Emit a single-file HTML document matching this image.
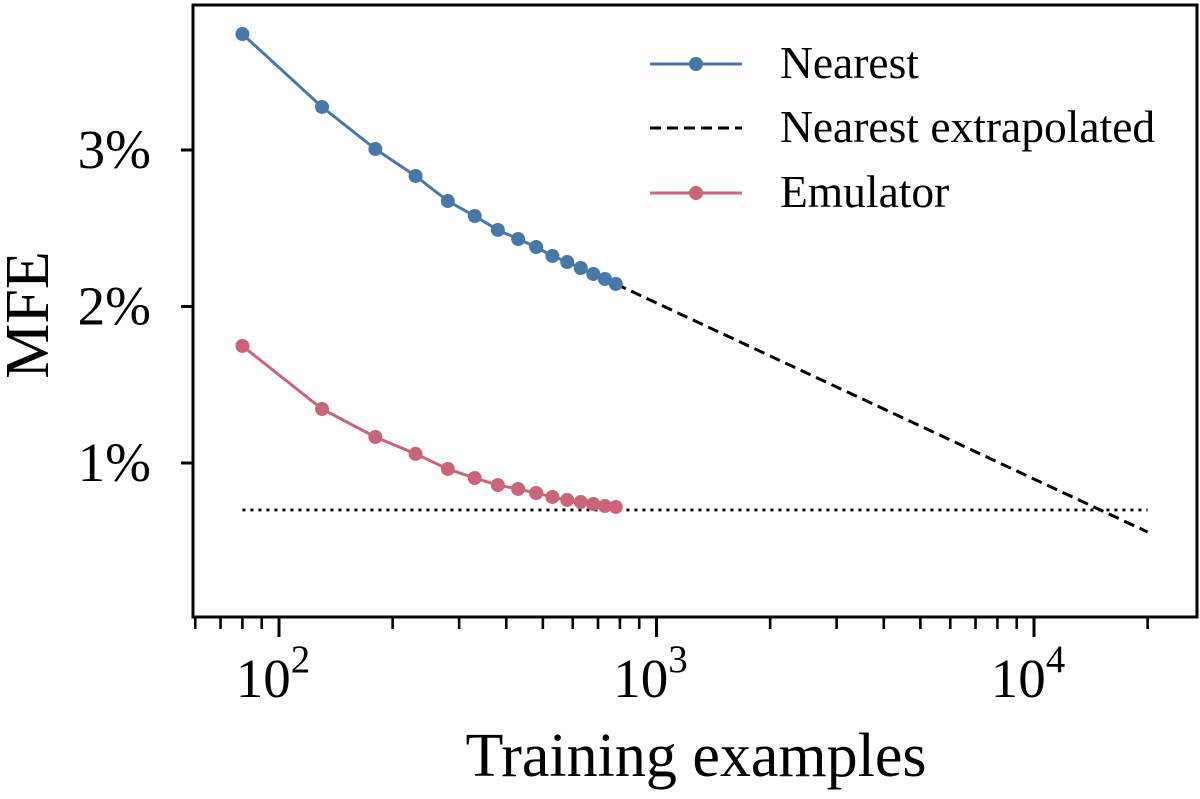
<!DOCTYPE html>
<html><head><meta charset="utf-8"><style>
body{margin:0;background:#fff}
svg text{font-family:"Liberation Serif",serif;fill:#000}
</style></head><body>
<svg id="chart" width="1200" height="794" xmlns="http://www.w3.org/2000/svg"></svg>
<script>
const xValues=[80,130,180,230,280,330,380,430,480,530,580,630,680,730,780];
const nearestValues=[3.741,3.275,3.006,2.834,2.674,2.578,2.489,2.431,2.380,2.323,2.284,2.246,2.208,2.176,2.144];
const emulatorValues=[1.748,1.345,1.166,1.058,0.962,0.904,0.859,0.834,0.808,0.783,0.764,0.751,0.738,0.725,0.719];
const extrapX=[780,20000];
const extrapValues=[2.144,0.559];
const floorX=[80,20000];
const floorValues=[0.70,0.70];
const yTicks=[1,2,3];
const xTickExps=[2,3,4];

const L=193,R=1197,T=5,B=617;
const NS="http://www.w3.org/2000/svg";
const svg=document.getElementById('chart');
function xs(v){return 279+(Math.log10(v)-2)*377.5;}
function ys(v){return 463-(v-1)*156.5;}
function mk(t,a,parent){const e=document.createElementNS(NS,t);for(const k in a)e.setAttribute(k,a[k]);(parent||svg).appendChild(e);return e;}

yTicks.forEach(v=>{
  const t=mk('line',{x1:L-12,x2:L,y1:ys(v),y2:ys(v),stroke:'#000','stroke-width':3});
  
  
  const l=mk('text',{x:L-42,y:ys(v)+18,'text-anchor':'end','font-size':55});
  l.textContent=v+'%';
  
  
});
for(let e=1;e<=4;e++){for(let m=1;m<10;m++){const v=m*Math.pow(10,e);const x=xs(v);if(x<L||x>R)continue;
  const major=m===1;
  const t=mk('line',{x1:x,x2:x,y1:B,y2:B+(major?20:12),stroke:'#000','stroke-width':major?3:2.6});
  
  
}}
xTickExps.forEach(e=>{
  const l=mk('text',{x:xs(Math.pow(10,e))-6,y:697,'text-anchor':'middle','font-size':55});
  l.textContent='10';
  const s=mk('tspan',{dy:-25,'font-size':39},l);s.textContent=e;
  
  
});
function line(xa,ya,attrs,name){
  const p=mk('polyline',Object.assign({points:xa.map((x,i)=>xs(x)+','+ys(ya[i])).join(' '),fill:'none'},attrs));
  
  
}
line(floorX,floorValues,{stroke:'#000','stroke-width':2.8,'stroke-dasharray':'3 5'},'floor-dotted-line');
line(extrapX,extrapValues,{stroke:'#000','stroke-width':3,'stroke-dasharray':'11 6'},'nearest-extrapolated-line');
line(xValues,nearestValues,{stroke:'#4a77aa','stroke-width':3},'nearest-line');
line(xValues,emulatorValues,{stroke:'#c9647a','stroke-width':3},'emulator-line');
xValues.forEach((x,i)=>{
  const a=mk('circle',{cx:xs(x),cy:ys(nearestValues[i]),r:7,fill:'#4a77aa'});
  
  
  const b=mk('circle',{cx:xs(x),cy:ys(emulatorValues[i]),r:7,fill:'#c9647a'});
  
  
});
const f=mk('rect',{x:L,y:T,width:R-L,height:B-T,fill:'none',stroke:'#000','stroke-width':3});


const leg=[['Nearest','#4a77aa',null,64,true],['Nearest extrapolated','#000','11 6',128,false],['Emulator','#c9647a',null,193,true]];
leg.forEach(([txt,c,d,y,dot])=>{
  const g=mk('g',{});
  
  
  const a={x1:650,x2:742,y1:y,y2:y,stroke:c,'stroke-width':3};if(d)a['stroke-dasharray']=d;
  mk('line',a,g);
  if(dot)mk('circle',{cx:696,cy:y,r:7,fill:c},g);
  const t=mk('text',{x:780,y:y+14,'font-size':45.5},g);t.textContent=txt;
});
const xl=mk('text',{x:696,y:776,'text-anchor':'middle','font-size':62});xl.textContent='Training examples';

const yl=mk('text',{x:0,y:0,'text-anchor':'middle','font-size':62,transform:'translate(48,315) rotate(-90)'});yl.textContent='MFE';

</script>
</body></html>
